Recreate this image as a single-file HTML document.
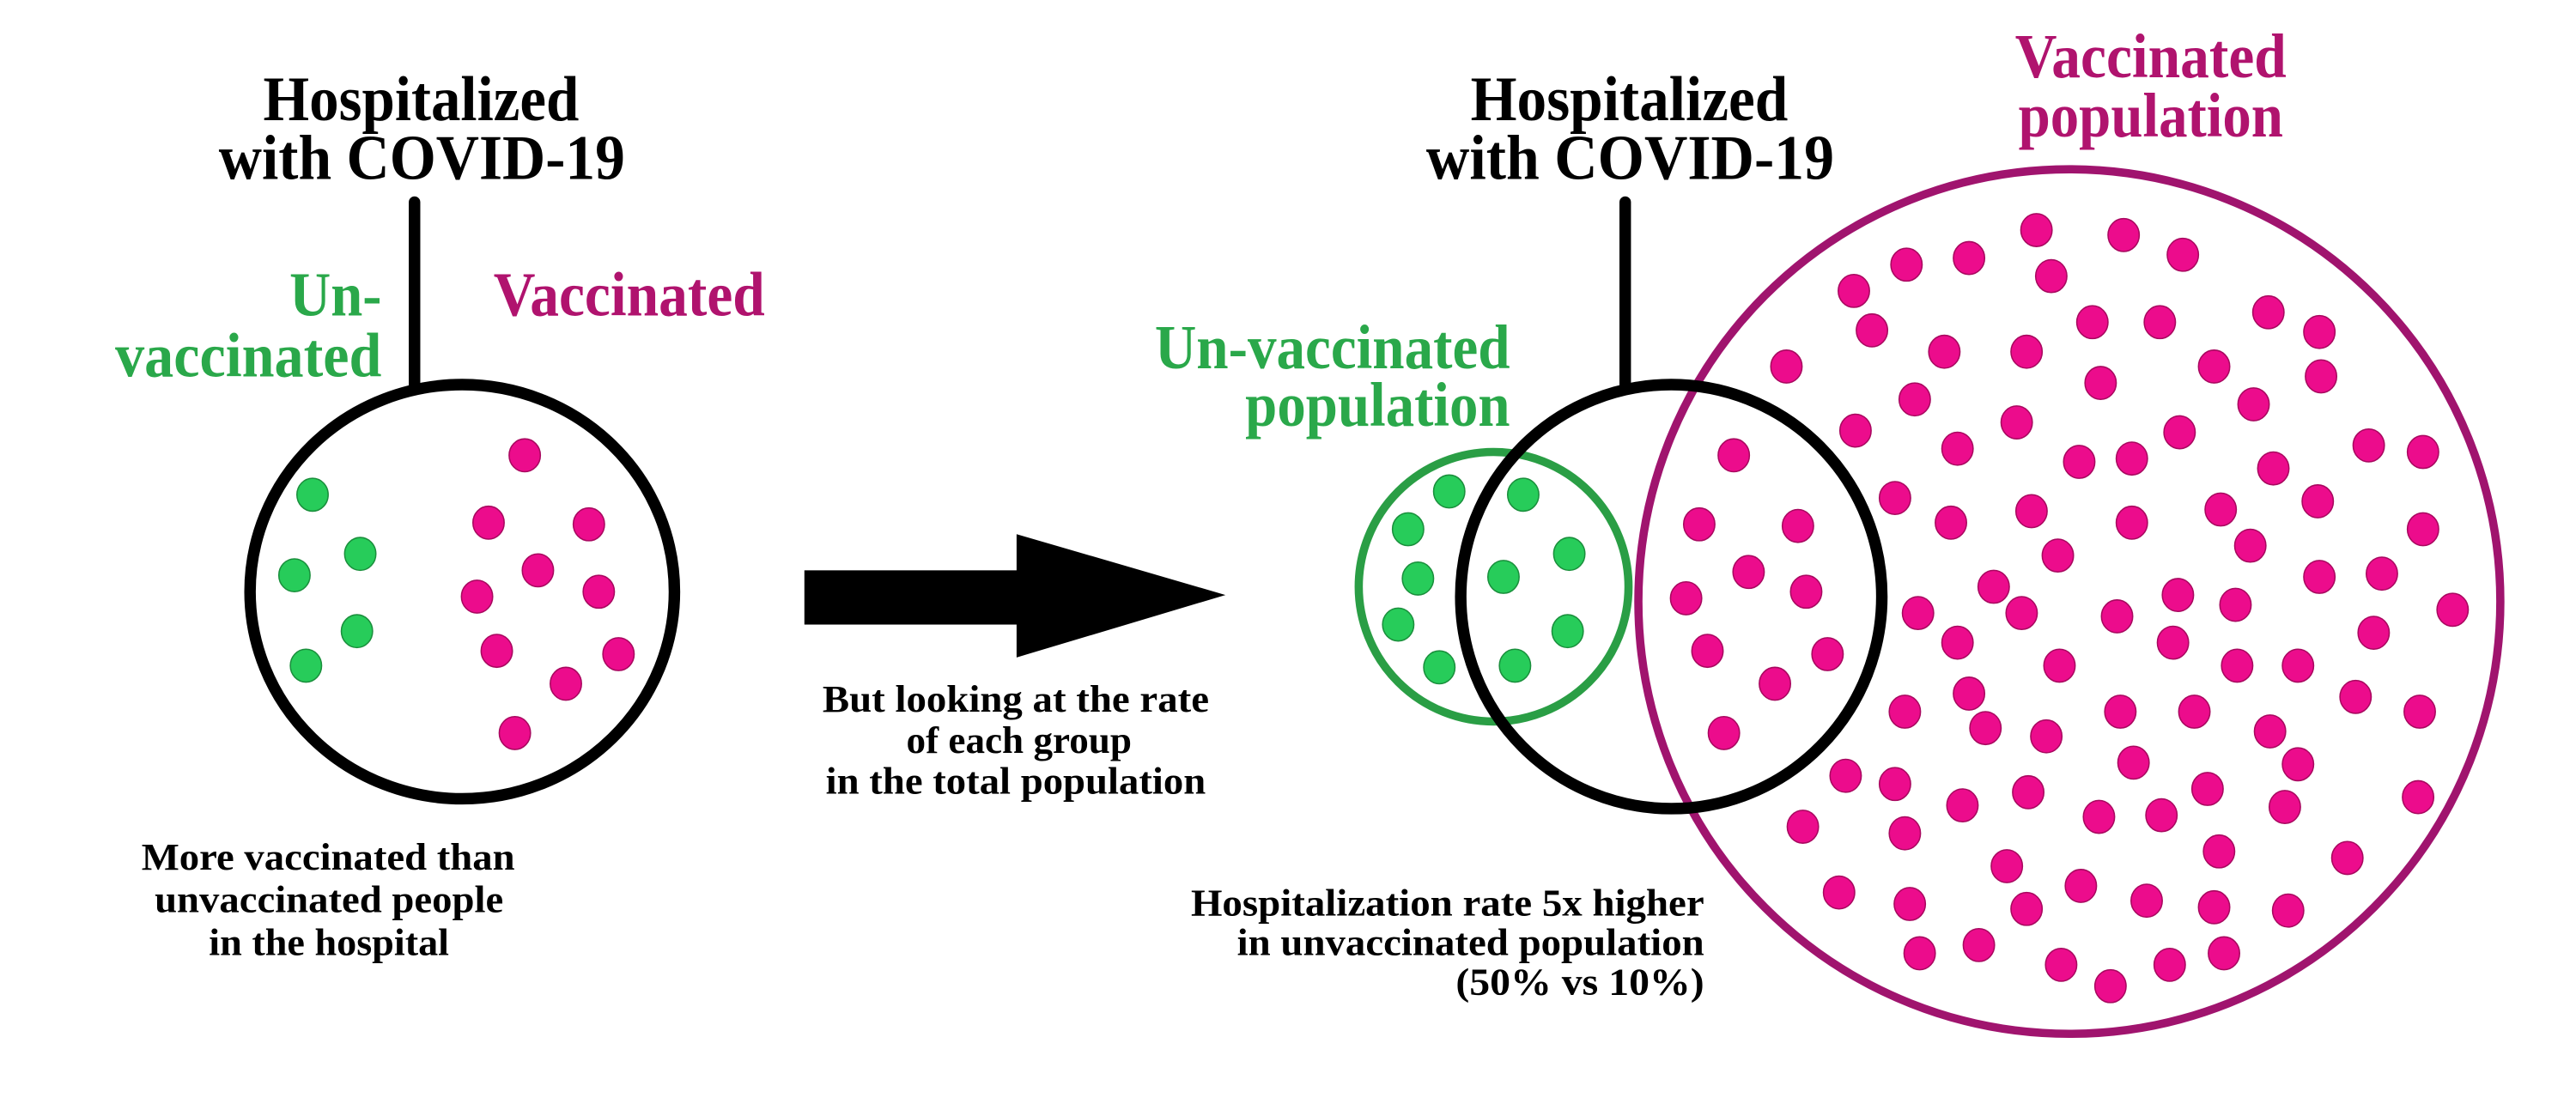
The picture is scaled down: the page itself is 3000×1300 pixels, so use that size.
<!DOCTYPE html>
<html><head><meta charset="utf-8"><style>
html,body{margin:0;padding:0;background:#fff;width:3000px;height:1300px;overflow:hidden}
svg{display:block}
text{font-family:"Liberation Serif",serif;font-weight:bold}
</style></head><body>
<svg id="chart" width="3000" height="1300" viewBox="0 0 1566 679" preserveAspectRatio="none" xmlns="http://www.w3.org/2000/svg">
<rect width="1566" height="679" fill="#fff"/>
<g>
<text x="160" y="73" font-size="39" textLength="192" lengthAdjust="spacingAndGlyphs">Hospitalized</text>
<text x="133" y="109" font-size="39" textLength="247" lengthAdjust="spacingAndGlyphs">with COVID-19</text>
<line x1="252" y1="123" x2="252" y2="236" stroke="#000" stroke-width="7" stroke-linecap="round"/>
<text x="176" y="192" font-size="38" fill="#2aa84a" textLength="56" lengthAdjust="spacingAndGlyphs">Un-</text>
<text x="70" y="229" font-size="38" fill="#2aa84a" textLength="162" lengthAdjust="spacingAndGlyphs">vaccinated</text>
<text x="300" y="192" font-size="38" fill="#b0136e" textLength="165" lengthAdjust="spacingAndGlyphs">Vaccinated</text>
<ellipse cx="281" cy="360" rx="129" ry="126" fill="none" stroke="#000" stroke-width="7"/>
<g id="leftDots"></g>
<text x="86" y="529" font-size="23" textLength="227" lengthAdjust="spacingAndGlyphs">More vaccinated than</text>
<text x="94" y="555" font-size="23" textLength="212" lengthAdjust="spacingAndGlyphs">unvaccinated people</text>
<text x="127" y="581" font-size="23" textLength="146" lengthAdjust="spacingAndGlyphs">in the hospital</text>
</g>
<g>
<rect x="489" y="347" width="130" height="33" fill="#000"/>
<polygon points="618,325 745,362 618,400" fill="#000"/>
<text x="500" y="433" font-size="23" textLength="235" lengthAdjust="spacingAndGlyphs">But looking at the rate</text>
<text x="551" y="458" font-size="23" textLength="137" lengthAdjust="spacingAndGlyphs">of each group</text>
<text x="502" y="483" font-size="23" textLength="231" lengthAdjust="spacingAndGlyphs">in the total population</text>
</g>
<g>
<text x="894" y="73" font-size="39" textLength="193" lengthAdjust="spacingAndGlyphs">Hospitalized</text>
<text x="867" y="109" font-size="39" textLength="248" lengthAdjust="spacingAndGlyphs">with COVID-19</text>
<text x="1225" y="47" font-size="38" fill="#b0136e" textLength="165" lengthAdjust="spacingAndGlyphs">Vaccinated</text>
<text x="1227" y="83" font-size="38" fill="#b0136e" textLength="161" lengthAdjust="spacingAndGlyphs">population</text>
<text x="702" y="224" font-size="38" fill="#2aa84a" textLength="216" lengthAdjust="spacingAndGlyphs">Un-vaccinated</text>
<text x="757" y="259" font-size="38" fill="#2aa84a" textLength="161" lengthAdjust="spacingAndGlyphs">population</text>
<ellipse cx="1258" cy="366" rx="262" ry="263" fill="none" stroke="#a0146e" stroke-width="5"/>
<ellipse cx="908" cy="357" rx="82" ry="82" fill="none" stroke="#2a9e45" stroke-width="5"/>
<g id="rightDots"></g>
<line x1="988" y1="123" x2="988" y2="236" stroke="#000" stroke-width="7" stroke-linecap="round"/>
<ellipse cx="1016" cy="363" rx="128" ry="129" fill="none" stroke="#000" stroke-width="7"/>
<text x="724" y="557" font-size="23" textLength="312" lengthAdjust="spacingAndGlyphs">Hospitalization rate 5x higher</text>
<text x="752" y="581" font-size="23" textLength="284" lengthAdjust="spacingAndGlyphs">in unvaccinated population</text>
<text x="885" y="605" font-size="23" textLength="151" lengthAdjust="spacingAndGlyphs">(50% vs 10%)</text>
</g>
</svg>
<script>
const leftGreenX=[190,179,219,217,186];
const leftGreenY=[301,350,337,384,405];
const leftPinkX=[319,297,358,327,290,364,302,376,344,313];
const leftPinkY=[277,318,319,347,363,360,396,398,416,446];
const rightGreenX=[881,926,856,954,862,914,850,953,875,921];
const rightGreenY=[299,301,322,337,352,351,380,384,406,405];
const rightPinkX=[1238,1291,1327,1159,1197,1247,1127,1138,1182,1232,1272,1313,1379,1410,1086,1277,1346,1164,1226,1370,1411,1128,1190,1264,1296,1325,1440,1473,1382,1054,1152,1186,1235,1296,1350,1409,1033,1093,1212,1251,1368,1473,1063,1098,1025,1166,1229,1287,1324,1359,1410,1448,1491,1038,1111,1190,1252,1321,1360,1397,1443,1079,1158,1197,1244,1289,1334,1380,1432,1471,1048,1207,1297,1122,1152,1233,1342,1397,1470,1096,1193,1276,1314,1158,1389,1349,1220,1427,1118,1161,1232,1265,1305,1346,1391,1167,1203,1253,1283,1319,1352];
const rightPinkY=[140,143,155,161,157,168,177,201,214,214,196,196,190,202,223,233,223,243,257,246,229,262,273,281,279,263,271,275,285,277,303,318,311,318,310,305,319,320,357,338,332,322,348,360,364,373,373,375,362,368,351,349,371,396,398,391,405,391,405,405,385,416,433,422,448,433,433,445,424,433,446,443,464,472,477,482,480,465,485,503,490,497,496,507,491,518,527,522,543,550,553,539,548,552,554,580,575,587,600,587,580];
const NS='http://www.w3.org/2000/svg';
function drawDots(gid,xs,ys,fill,stroke,name){
  const g=document.getElementById(gid);
  for(let i=0;i<xs.length;i++){
    const c=document.createElementNS(NS,'ellipse');
    c.setAttribute('cx',xs[i]);c.setAttribute('cy',ys[i]);
    c.setAttribute('rx',9.5);c.setAttribute('ry',10);
    c.setAttribute('fill',fill);c.setAttribute('stroke',stroke);c.setAttribute('stroke-width',0.8);
    
    
    g.appendChild(c);
  }
}
drawDots('leftDots',leftGreenX,leftGreenY,'#27cc5a','#1a8f3c','unvaccinated-person-dot');
drawDots('leftDots',leftPinkX,leftPinkY,'#ec0c8c','#a8085f','vaccinated-person-dot');
drawDots('rightDots',rightGreenX,rightGreenY,'#27cc5a','#1a8f3c','unvaccinated-person-dot');
drawDots('rightDots',rightPinkX,rightPinkY,'#ec0c8c','#a8085f','vaccinated-person-dot');
</script>
</body></html>
